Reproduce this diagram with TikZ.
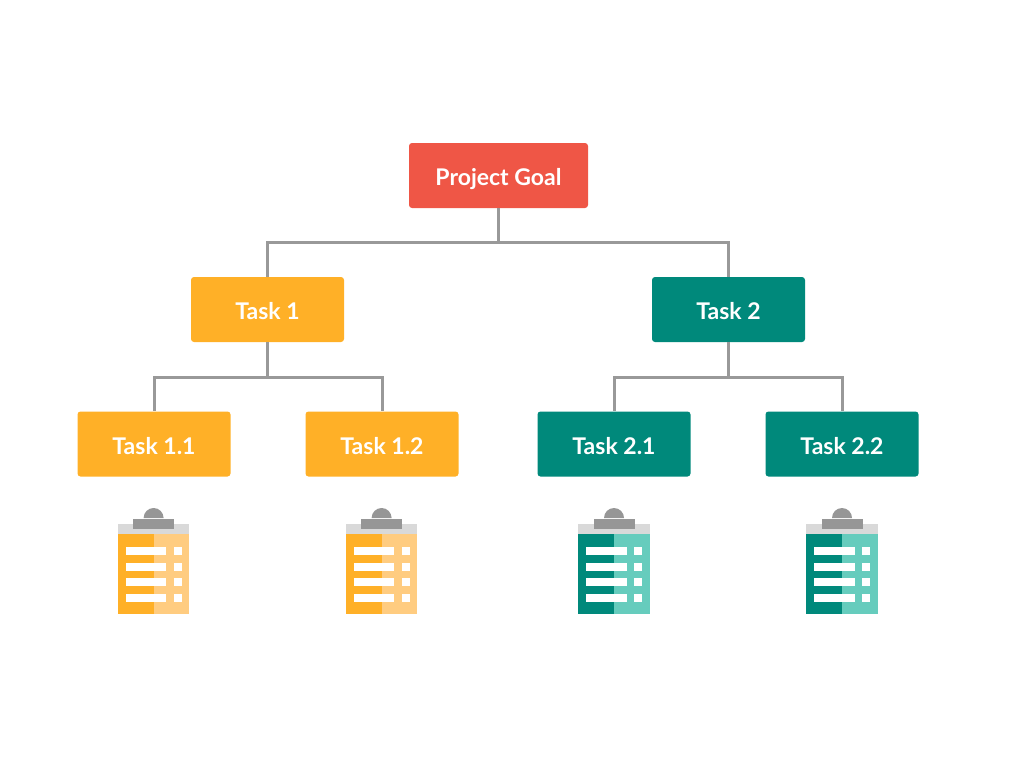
\documentclass[tikz,border=0pt]{standalone}
\usepackage{fontspec}
\setmainfont{Lato}
\definecolor{goalred}{HTML}{EF5646}
\definecolor{taskorange}{HTML}{FFB027}
\definecolor{taskteal}{HTML}{00897B}
\definecolor{lightorange}{HTML}{FFCC80}
\definecolor{lightteal}{HTML}{66CCBD}
\definecolor{linkgray}{HTML}{999999}
\definecolor{clipgray}{HTML}{969696}
\definecolor{boardgray}{HTML}{D9D9D9}
\tikzset{
  box/.style = {rounded corners = 3pt, inner sep = 0pt, text = white, minimum width = 153pt, minimum height = 65pt, text height = 20pt, text depth = 0pt, font = \fontsize{23}{23}\selectfont\bfseries},
  link/.style = {draw = linkgray, line width = 3pt},
}
% one clipboard: centre x, dark colour, light colour
\newcommand{\clipboard}[3]{
  \fill[boardgray] (#1-35.8, 524) rectangle (#1+35.8, 533.5);
  \fill[clipgray] (#1-10, 518) arc[start angle = 180, end angle = 360, radius = 10] -- cycle;
  \fill[clipgray] (#1-20.5, 519) rectangle (#1+20.5, 529);
  \fill[#2] (#1-35.8, 533.5) rectangle (#1, 613.5);
  \fill[#3] (#1, 533.5) rectangle (#1+35.8, 613.5);
  \foreach \rowy in {547, 563, 578, 594} {
    \fill[white] (#1-28, \rowy) rectangle (#1+12.7, \rowy+7.5);
    \fill[white] (#1+20.3, \rowy) rectangle (#1+28.3, \rowy+7.5);
  }
}
\begin{document}
\begin{tikzpicture}[x = 1pt, y = -1pt]
    \useasboundingbox (0, 0) rectangle (1024, 768);
    \node[box, fill = goalred, minimum width = 179pt] (Project Goal) at (498.5, 175.5) {Project Goal};
    \node[box, fill = taskorange] (Task 1) at (267.5, 309.5) {Task 1};
    \node[box, fill = taskteal] (Task 2) at (728.5, 309.5) {Task 2};
    \node[box, fill = taskorange] (Task 1-1) at (154, 444) {Task 1.1};
    \node[box, fill = taskorange] (Task 1-2) at (382, 444) {Task 1.2};
    \node[box, fill = taskteal] (Task 2-1) at (614, 444) {Task 2.1};
    \node[box, fill = taskteal] (Task 2-2) at (842, 444) {Task 2.2};
    \coordinate (Goal Bus) at (498.5, 242.5);
    \coordinate (Task 1 Bus) at (267.5, 377.5);
    \coordinate (Task 2 Bus) at (728.5, 377.5);
    \draw[link] (Project Goal) -- (Goal Bus);
    \draw[link] (Goal Bus) -| (Task 1);
    \draw[link] (Goal Bus) -| (Task 2);
    \draw[link] (Task 1) -- (Task 1 Bus);
    \draw[link] (Task 1 Bus) -| (Task 1-1);
    \draw[link] (Task 1 Bus) -| (Task 1-2);
    \draw[link] (Task 2) -- (Task 2 Bus);
    \draw[link] (Task 2 Bus) -| (Task 2-1);
    \draw[link] (Task 2 Bus) -| (Task 2-2);
    \clipboard{153.6}{taskorange}{lightorange}
    \clipboard{381.6}{taskorange}{lightorange}
    \clipboard{614}{taskteal}{lightteal}
    \clipboard{842}{taskteal}{lightteal}
  \end{tikzpicture}
\end{document}
